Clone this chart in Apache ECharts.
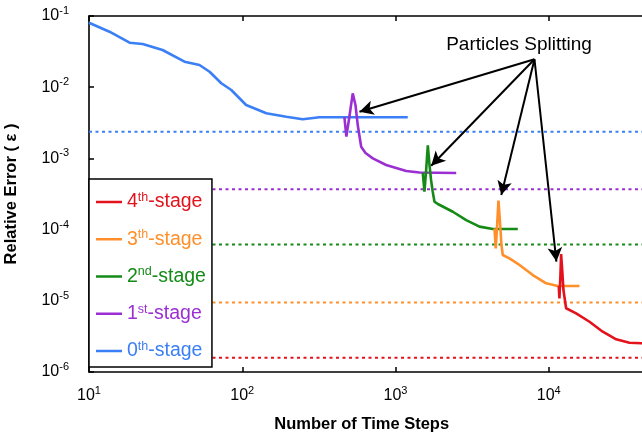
<!DOCTYPE html>
<html>
<head>
<meta charset="utf-8">
<script src="https://cdn.jsdelivr.net/npm/echarts@6/dist/echarts.min.js"></script>
<style>html,body{margin:0;padding:0;background:#fff;}#c{width:642px;height:437px;}</style>
</head>
<body>
<div id="c"></div>
<script>
// ---- data ----
const stageNames = ['0th-stage', '1st-stage', '2nd-stage', '3th-stage', '4th-stage'];
const stageColors = ['#3a7ff5', '#9b2fd2', '#158a17', '#ff8f2a', '#e3121c'];
const stage0 = [[10,0.0805],[13.6,0.0602],[18.4,0.0422],[22.4,0.0405],[30.2,0.0333],[42,0.0228],[52.6,0.0205],[61.2,0.0165],[73,0.01135],[84.8,0.00914],[106,0.00562],[143.5,0.0043],[193.7,0.00385],[248,0.00354],[319,0.00378],[1202,0.00378]];
const stage1 = [[464,0.00381],[478,0.00202],[501,0.00394],[526,0.0082],[548,0.00562],[567,0.00294],[597,0.00146],[637,0.00119],[711,0.001],[869,0.000807],[1175,0.000665],[1435,0.000634],[2490,0.000624]];
const stage2 = [[1507,0.000624],[1545,0.00034],[1585,0.000687],[1625,0.00152],[1667,0.000807],[1706,0.000498],[1750,0.00034],[1795,0.000247],[1889,0.000229],[2366,0.000178],[2893,0.000136],[3532,0.00011],[4315,0.000102],[6280,0.000102]];
const stage3 = [[4426,0.000104],[4510,5.46e-5],[4605,1.16e-4],[4697,2.55e-4],[4805,1.28e-4],[4914,6.08e-5],[5012,4.4e-5],[5541,3.95e-5],[6446,3.18e-5],[7866,2.3e-5],[9622,1.76e-5],[11450,1.61e-5],[15860,1.61e-5]];
const stage4 = [[11620,1.61e-5],[11740,1.08e-5],[11920,2.3e-5],[12040,4.54e-5],[12240,2.71e-5],[12470,1.42e-5],[12980,7.85e-6],[15090,6.67e-6],[18440,5.08e-6],[22510,3.68e-6],[27530,2.88e-6],[33600,2.58e-6],[40270,2.53e-6],[60000,2.52e-6]];
const stageData = [stage0, stage1, stage2, stage3, stage4];
const refLevels = [2.37e-3, 3.7e-4, 6.2e-5, 9.5e-6, 1.58e-6];
const xRange = [10, 100000];
const yRange = [1e-6, 1e-1];
const arrowOrigin = [8070, 0.0247];
const arrowTargets = [[582,4.53e-3],[1710,7.89e-4],[4900,3.06e-4],[11220,3.56e-5]];
const legendParts = {'4th-stage':['4','th'],'3th-stage':['3','th'],'2nd-stage':['2','nd'],'1st-stage':['1','st'],'0th-stage':['0','th']};

// ---- chart ----
const FONT = '"Liberation Sans", Arial, Helvetica, sans-serif';
const chart = echarts.init(document.getElementById('c'), null, {renderer:'canvas'});
function powLabel(v){
  const e = Math.round(Math.log10(v));
  return '{b|10}{s|' + (e < 0 ? '-' + (-e) : e) + '}';
}
const tickRich = {
  b:{fontSize:16, lineHeight:21, fontFamily:FONT, color:'#000'},
  s:{fontSize:11, lineHeight:10, verticalAlign:'top', fontFamily:FONT, color:'#000'}
};
const axisLineStyle = {show:true, lineStyle:{color:'#000', width:1.6}};
const series = [];
refLevels.forEach((v,i)=>{
  series.push({
    name:'ref'+i, type:'line', data:[[xRange[0],v],[xRange[1],v]],
    symbol:'none', silent:true, animation:false, z:1,
    lineStyle:{color:stageColors[i], width:2, type:[3,3.5]}
  });
});
stageData.forEach((d,i)=>{
  series.push({
    name:stageNames[i], type:'line', data:d, symbol:'none', showSymbol:false,
    animation:false, color:stageColors[i], z:2,
    lineStyle:{color:stageColors[i], width:2.6}
  });
});
series[0].markLine = {
  silent:true, animation:false, symbol:['none','arrow'], symbolSize:[11,14],
  label:{show:false}, lineStyle:{color:'#000', width:2, type:'solid'},
  emphasis:{disabled:true},
  data: arrowTargets.map(t => [{coord:arrowOrigin},{coord:t}])
};
const legendOrder = ['4th-stage','3th-stage','2nd-stage','1st-stage','0th-stage'];
chart.setOption({
  animation:false,
  backgroundColor:'#fff',
  grid:{left:89, top:16, width:613, height:356, containLabel:false, outerBoundsMode:'none'},
  xAxis:[{
    type:'log', logBase:10, min:xRange[0], max:xRange[1], position:'bottom',
    axisLine:axisLineStyle, axisTick:{show:true, inside:true, length:5, lineStyle:{color:'#000', width:1.5}},
    splitLine:{show:false}, minorTick:{show:false},
    axisLabel:{formatter:powLabel, margin:13, rich:tickRich, showMinLabel:true}
  },{
    type:'log', logBase:10, min:xRange[0], max:xRange[1], position:'top',
    axisLine:axisLineStyle, axisTick:{show:true, inside:true, length:5, lineStyle:{color:'#000', width:1.5}},
    splitLine:{show:false}, axisLabel:{show:false}
  }],
  yAxis:[{
    type:'log', logBase:10, min:yRange[0], max:yRange[1],
    axisLine:axisLineStyle, axisTick:{show:true, inside:true, length:5, lineStyle:{color:'#000', width:1.5}},
    splitLine:{show:false},
    axisLabel:{formatter:powLabel, margin:20, rich:tickRich},
    name:'Relative Error ( ε )', nameLocation:'middle', nameGap:69, nameRotate:90,
    nameTextStyle:{fontFamily:FONT, fontWeight:'bold', fontSize:16.5, color:'#000'}
  }],
  legend:{
    orient:'vertical', left:89, top:179, icon:'rect', itemWidth:26, itemHeight:2.5,
    itemGap:16.25, padding:[12,6,6,7], backgroundColor:'#fff', borderColor:'#000', borderWidth:1.5,
    selectedMode:false,
    formatter: n => '{n|' + legendParts[n][0] + '}{s|' + legendParts[n][1] + '}{n|-stage}',
    data: legendOrder.map(n => {
      const c = stageColors[stageNames.indexOf(n)];
      return {name:n, textStyle:{rich:{
        n:{fontSize:19.5, lineHeight:22, fontFamily:FONT, color:c},
        s:{fontSize:12.5, lineHeight:10, verticalAlign:'top', fontFamily:FONT, color:c}
      }}};
    })
  },
  graphic:[
    {type:'text', x:361.7, y:424, silent:true, style:{text:'Number of Time Steps', fill:'#000', font:'bold 16.5px ' + FONT, align:'center', verticalAlign:'middle'}},
    {type:'text', x:519, y:45, silent:true, style:{text:'Particles Splitting', fill:'#000', font:'19px ' + FONT, align:'center', verticalAlign:'middle'}}
  ],
  series: series
});
</script>
</body>
</html>
